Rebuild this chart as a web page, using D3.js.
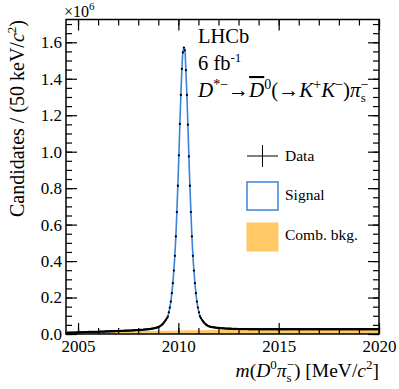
<!DOCTYPE html>
<html><head><meta charset="utf-8">
<script src="https://cdn.jsdelivr.net/npm/d3@7"></script>
<style>
body{margin:0;background:#fff}
svg{display:block}
text{font-family:"Liberation Serif","Times New Roman",serif;fill:#000}
</style>
</head><body><svg id="c" width="399" height="389"></svg>
<script>
// ---------------- data ----------------
const binLow = 2004.4;          // MeV/c^2, lower edge of first bin
const binWidth = 0.05;          // 50 keV
// Candidates per bin, in thousands
const counts = [
  6,7,7,7,7,8,8,8,8,8,
  9,9,9,9,9,9,10,10,10,10,
  10,10,11,11,11,11,11,11,12,12,
  12,12,12,13,13,13,13,13,13,14,
  14,14,14,14,15,15,15,15,15,16,
  16,16,16,16,17,17,17,17,18,18,
  18,18,19,19,19,19,20,20,20,21,
  21,21,22,22,22,23,23,24,24,25,
  25,26,26,27,28,29,30,31,32,33,
  35,37,39,42,46,50,55,62,69,77,
  86,95,119,145,178,224,279,348,429,535,
  669,813,980,1152,1311,1454,1544,1571,1556,1447,
  1311,1148,974,813,669,535,429,348,279,224,
  178,145,119,97,87,78,70,63,57,52,
  48,45,42,40,39,38,37,36,35,35,
  34,33,33,32,32,31,31,31,30,30,
  30,29,29,29,29,28,28,28,28,28,
  28,27,27,27,27,27,27,27,27,27,
  27,26,26,26,26,26,26,26,26,26,
  26,26,26,26,26,26,26,26,26,26,
  26,26,26,26,26,26,26,26,26,26,
  26,26,26,26,26,26,26,26,26,26,
  26,26,26,26,26,26,26,26,26,26,
  26,26,26,26,26,26,26,26,26,26,
  26,26,26,26,26,26,26,26,26,26,
  26,26,26,26,26,26,26,26,26,26,
  26,26,26,26,26,26,26,26,26,26,
  26,26,26,26,26,26,26,26,26,26,
  26,26,26,26,26,26,26,26,26,26,
  26,26,26,26,26,26,26,26,26,26,
  26,26,26,26,26,26,26,26,26,26,
  26,26
];
// Combinatorial background (thousands per bin)
const bkgMass   = [2004.4, 2004.6, 2005, 2005.5, 2006, 2007, 2008, 2009, 2010, 2011, 2012, 2014, 2016, 2018, 2020];
const bkgValues = [0, 2.5, 5, 8, 10, 13.5, 16, 18, 19.5, 20.5, 21.5, 22.5, 23, 23.5, 24];

const xMajorTicks = [2005, 2010, 2015, 2020];
const yMajorTicks = [0, 0.2, 0.4, 0.6, 0.8, 1.0, 1.2, 1.4, 1.6];
const legendLabels = ["Data", "Signal", "Comb. bkg."];

// ---------------- layout ----------------
const L = 66, R = 379, T = 19.5, B = 334;
const blue = "#3b82d8", orange = "#ffc966";
const FONT = '"Liberation Serif","Times New Roman",serif';
const svg = d3.select("#c");
const x = d3.scaleLinear().domain([2004.4, 2020]).range([L, R]);
const y = d3.scaleLinear().domain([0, 1.725]).range([B, T]);

const centers = counts.map((_, i) => binLow + binWidth * (i + 0.5));
const pts = counts.map((c, i) => ({m: centers[i], v: c / 1000}));
const bkg = bkgMass.map((m, i) => ({m, v: bkgValues[i] / 1000}));

// background area
svg.append("path").datum(bkg)
  .attr("fill", orange)
  .attr("d", d3.area().x(d => x(d.m)).y0(y(0)).y1(d => y(d.v)).curve(d3.curveMonotoneX));

// fit curve
svg.append("path").datum(pts)
  .attr("fill", "none").attr("stroke", blue).attr("stroke-width", 1.6)
  .attr("d", d3.line().x(d => x(d.m)).y(d => y(d.v)).curve(d3.curveMonotoneX));

// data points
const dg = svg.append("g");
dg.selectAll("line.h").data(pts).join("line")
  .attr("x1", d => x(d.m - binWidth / 2)).attr("x2", d => x(d.m + binWidth / 2))
  .attr("y1", d => y(d.v)).attr("y2", d => y(d.v))
  .attr("stroke", "#000").attr("stroke-width", 1);
dg.selectAll("circle").data(pts).join("circle")
  .attr("cx", d => x(d.m)).attr("cy", d => y(d.v)).attr("r", 1.15).attr("fill", "#000");

// axes (inward ticks)
const xMinor = d3.range(2005, 2021, 1);
const yMinor = d3.range(0, 1.7251, 0.05);
function styleAxis(g){
  g.attr("font-family", FONT);
  g.select(".domain").remove();
  g.selectAll("line").attr("stroke","#000").attr("stroke-width",1.2);
}

svg.append("g").attr("transform", `translate(0,${B})`)
  .call(d3.axisBottom(x).tickValues(xMinor).tickSize(-6).tickFormat("")).call(styleAxis);
svg.append("g").attr("transform", `translate(0,${B})`)
  .call(d3.axisBottom(x).tickValues(xMajorTicks).tickSize(-11).tickPadding(6).tickFormat(d3.format("d")))
  .call(styleAxis)
  .call(g => g.selectAll("text").attr("font-size", 17).attr("font-family", FONT).attr("fill","#000"));
svg.append("g").attr("transform", `translate(0,${T})`)
  .call(d3.axisTop(x).tickValues(xMinor).tickSize(-6).tickFormat("")).call(styleAxis);
svg.append("g").attr("transform", `translate(0,${T})`)
  .call(d3.axisTop(x).tickValues(xMajorTicks).tickSize(-11).tickFormat("")).call(styleAxis);

svg.append("g").attr("transform", `translate(${L},0)`)
  .call(d3.axisLeft(y).tickValues(yMinor).tickSize(-6).tickFormat("")).call(styleAxis);
svg.append("g").attr("transform", `translate(${L},0)`)
  .call(d3.axisLeft(y).tickValues(yMajorTicks).tickSize(-11).tickPadding(4).tickFormat(d3.format(".1f")))
  .call(styleAxis)
  .call(g => g.selectAll("text").attr("font-size", 17).attr("font-family", FONT).attr("fill","#000"));
svg.append("g").attr("transform", `translate(${R},0)`)
  .call(d3.axisRight(y).tickValues(yMinor).tickSize(-6).tickFormat("")).call(styleAxis);
svg.append("g").attr("transform", `translate(${R},0)`)
  .call(d3.axisRight(y).tickValues(yMajorTicks).tickSize(-11).tickFormat("")).call(styleAxis);

// frame
svg.append("rect").attr("x", L).attr("y", T).attr("width", R - L).attr("height", B - T)
  .attr("fill", "none").attr("stroke", "#000").attr("stroke-width", 1.5);

// helper for rich text
function rich(parent, parts){
  parts.forEach(p => {
    const t = parent.append("tspan").text(p.t);
    if (p.i) t.attr("font-style", "italic");
    if (p.fs) t.attr("font-size", p.fs);
    if (p.dy) t.attr("dy", p.dy);
    if (p.dx) t.attr("dx", p.dx);
    if (p.ol) t.style("text-decoration", "overline");
  });
}

// x10^6
const e6 = svg.append("text").attr("x", 64).attr("y", 17).attr("font-size", 16);
rich(e6, [{t:"×10"}, {t:"6", fs:11, dy:-7}]);

// y title
const yt = svg.append("text").attr("transform", "translate(24,20) rotate(-90)")
  .attr("text-anchor", "end").attr("font-size", 20);
rich(yt, [{t:"Candidates / (50 keV/"}, {t:"c", i:true}, {t:"2", fs:13, dy:-8}, {t:")", dy:8}]);

// x title
const xt = svg.append("text").attr("x", 379).attr("y", 377).attr("text-anchor", "end").attr("font-size", 19.5);
rich(xt, [{t:"m", i:true}, {t:"("}, {t:"D", i:true}, {t:"0", fs:13, dy:-8}, {t:"π", i:true, dy:8},
  {t:"s", fs:13, dy:5}, {t:"−", fs:13, dx:-5, dy:-13}, {t:") [MeV/", dy:8}, {t:"c", i:true}, {t:"2", fs:13, dy:-8}, {t:"]", dy:8}]);

// LHCb labels
svg.append("text").attr("x", 198).attr("y", 43).attr("font-size", 20.5).text("LHCb");
const lum = svg.append("text").attr("x", 198).attr("y", 70).attr("font-size", 20.5);
rich(lum, [{t:"6 fb"}, {t:"-1", fs:13, dy:-8}]);
const dec = svg.append("text").attr("x", 198).attr("y", 97).attr("font-size", 21);
rich(dec, [{t:"D", i:true}, {t:"*−", fs:14, dy:-8}, {t:"→", dy:8}, {t:"D", i:true, ol:true}, {t:"0", fs:14, dy:-8},
  {t:"(→", dy:8}, {t:"K", i:true}, {t:"+", fs:14, dy:-8}, {t:"K", i:true, dy:8}, {t:"−", fs:14, dy:-8},
  {t:")", dy:8}, {t:"π", i:true}, {t:"s", fs:13, dy:5}, {t:"−", fs:14, dx:-5, dy:-13}]);

// legend
const lg = svg.append("g");
lg.append("line").attr("x1", 247).attr("x2", 278).attr("y1", 156).attr("y2", 156).attr("stroke", "#000").attr("stroke-width", 1);
lg.append("line").attr("x1", 262.5).attr("x2", 262.5).attr("y1", 145).attr("y2", 167).attr("stroke", "#000").attr("stroke-width", 1);
lg.append("rect").attr("x", 247).attr("y", 182).attr("width", 31).attr("height", 28)
  .attr("fill", "#fff").attr("stroke", blue).attr("stroke-width", 1.5);
lg.append("rect").attr("x", 246.5).attr("y", 222.5).attr("width", 32).attr("height", 29).attr("fill", orange);
const lgY = [160.5, 199.5, 240];
lg.selectAll("text").data(legendLabels).join("text")
  .attr("x", 285).attr("y", (d, i) => lgY[i]).attr("font-size", 15.5).text(d => d);
</script>
</body></html>
